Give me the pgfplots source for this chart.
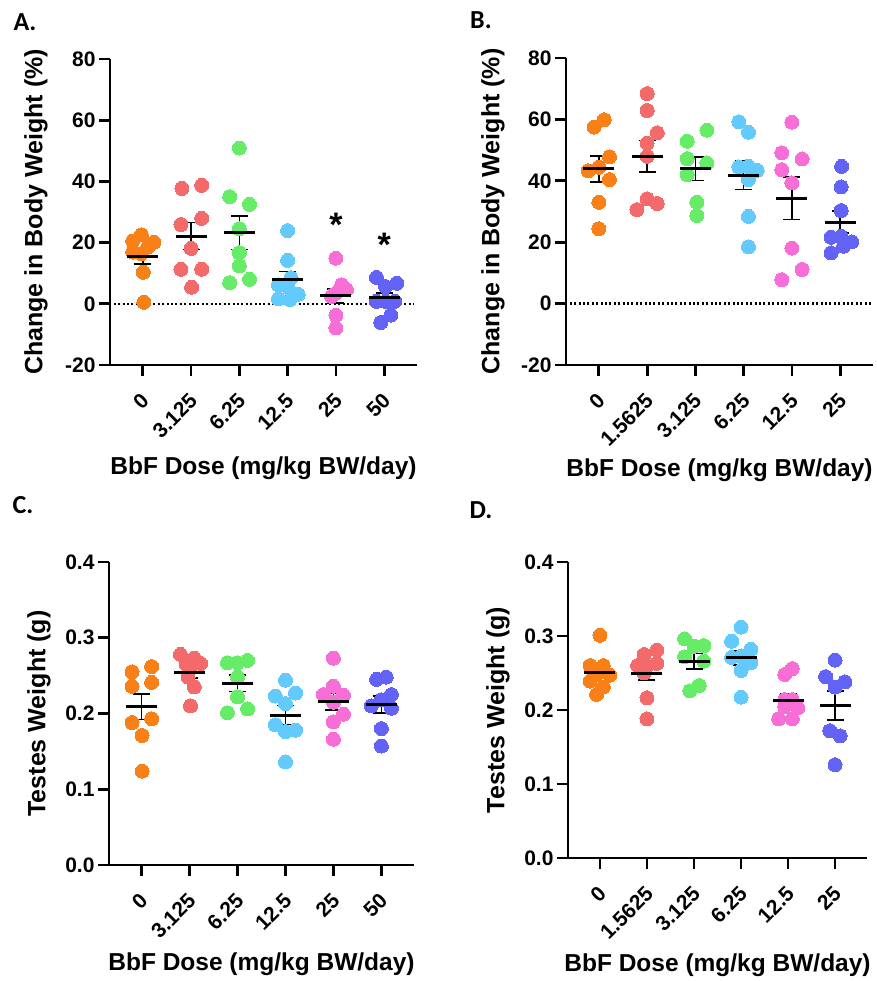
\documentclass[border=0pt]{standalone}
\usepackage{pgfplots}
\pgfplotsset{compat=1.18}
\usepackage{fontspec}
\setmainfont{Liberation Sans}
\newfontfamily\letterfont{Carlito}
\definecolor{corg}{RGB}{248,128,22}
\definecolor{cred}{RGB}{244,106,106}
\definecolor{cgrn}{RGB}{102,236,102}
\definecolor{ccyn}{RGB}{98,202,252}
\definecolor{cpnk}{RGB}{246,110,214}
\definecolor{cblu}{RGB}{98,98,246}
\pgfplotsset{
  panel/.style={scale only axis, axis lines*=left,
    axis line style={line width=2.8pt,-}, tick style={line width=2.8pt,black},
    major tick length=11pt, tick align=outside,
    xmin=-0.68, xmax=5.68, xtick={0,...,5},
    ticklabel style={font=\fontsize{21}{24}\selectfont\bfseries},
    xticklabel style={xshift=-3pt, yshift=-11pt, rotate=45, anchor=north east},
    xlabel style={font=\fontsize{24.5}{28}\selectfont\bfseries},
    ylabel style={font=\fontsize{25}{28}\selectfont\bfseries},
    /pgf/number format/assume math mode=true, clip=false},
  dots/.style={only marks, mark=*, mark size=7pt, color=#1, mark options={draw=#1, fill=#1, line width=0pt}},
  meanbar/.style={only marks, mark=-, mark size=15.5pt, color=black, mark options={line width=3pt, black},
    error bars/.cd, y dir=both, y explicit,
    error bar style={line width=1.6pt, black},
    error mark options={rotate=90, line width=1.6pt, mark size=8.5pt, black}},
  zeroline/.style={black, line width=2.2pt, dash pattern=on 2pt off 2.4pt},
}
\begin{document}
\begin{tikzpicture}
\useasboundingbox (0pt,0pt) rectangle (876pt,981pt);
\node[font=\fontsize{26}{30}\selectfont\bfseries\letterfont] at (25pt,959pt) {A.};
\node[font=\fontsize{26}{30}\selectfont\bfseries\letterfont] at (481pt,961pt) {B.};
\node[font=\fontsize{26}{30}\selectfont\bfseries\letterfont] at (23pt,476pt) {C.};
\node[font=\fontsize{26}{30}\selectfont\bfseries\letterfont] at (481pt,471pt) {D.};

% ---------- A ----------
\begin{axis}[panel, at={(110pt,616pt)}, anchor=south west, width=307pt, height=306pt,
  ymin=-20, ymax=80, ytick={-20,0,20,40,60,80},
  xticklabels={0,3.125,6.25,12.5,25,50},
  xlabel={BbF Dose (mg/kg BW/day)}, ylabel={Change in Body Weight (\%)},
  xlabel style={at={(axis description cs:0.5,0)}, anchor=center, yshift=-103pt},
  ylabel style={at={(axis description cs:-0.241,0.5)}, anchor=center}]
\addplot[zeroline] coordinates {(-0.6,0) (5.6,0)};
\addplot[dots=corg] coordinates {(-0.03,22.5) (-0.21,20.5) (0.23,20.1) (0.10,18.5) (-0.21,16.9) (-0.03,16.4) (0.01,10.3) (0.02,0.5)};
\addplot[dots=cred] coordinates {(0.81,37.7) (1.22,38.7) (1.22,27.9) (0.79,25.9) (1,18.1) (0.79,11.3) (1.22,11.3) (1.01,5.4)};
\addplot[dots=cgrn] coordinates {(2,50.9) (1.8,35.0) (2.21,32.5) (2,24.5) (2,16.7) (2,12.4) (1.8,6.9) (2.21,8.0)};
\addplot[dots=ccyn] coordinates {(3,23.9) (3,14.2) (3.07,8.5) (2.81,6.2) (3,5.6) (3.22,3.1) (2.81,1.6) (3.05,1.4)};
\addplot[dots=cpnk] coordinates {(4,14.9) (4.12,6.2) (4.22,4.6) (4,3.5) (3.91,2.4) (4.08,4.8) (4,-3.8) (4,-7.9)};
\addplot[dots=cblu] coordinates {(4.84,8.6) (5.26,6.7) (5.03,5.6) (4.84,0.8) (5.22,0.8) (5.03,0.8) (5.14,-3.7) (4.93,-6.1)};
\addplot[meanbar] coordinates {(0,15.6) +- (0,2.6) (1,22.1) +- (0,4.4) (2,23.2) +- (0,5.4) (3,7.8) +- (0,2.7) (4,2.6) +- (0,2.3) (5,2.1) +- (0,1.4)};
\node[font=\fontsize{34}{34}\selectfont\bfseries] at (axis cs:4,25.8) {*};
\node[font=\fontsize{34}{34}\selectfont\bfseries] at (axis cs:5,19.3) {*};
\end{axis}

% ---------- B ----------
\begin{axis}[panel, at={(566pt,616pt)}, anchor=south west, width=307pt, height=307pt,
  ymin=-20, ymax=80, ytick={-20,0,20,40,60,80},
  xticklabels={0,1.5625,3.125,6.25,12.5,25},
  xlabel={BbF Dose (mg/kg BW/day)}, ylabel={Change in Body Weight (\%)},
  xlabel style={at={(axis description cs:0.5,0)}, anchor=center, yshift=-105pt},
  ylabel style={at={(axis description cs:-0.238,0.5)}, anchor=center}]
\addplot[zeroline] coordinates {(-0.6,0) (5.65,0)};
\addplot[dots=corg] coordinates {(0.11,59.9) (-0.10,57.5) (0.22,47.8) (-0.22,43.3) (0,44.4) (0.22,40.4) (0,33.0) (0,24.4)};
\addplot[dots=cred] coordinates {(1,68.4) (1,62.9) (1.21,55.6) (1,52.3) (1,48.0) (0.79,30.6) (1,34.1) (1.21,32.6)};
\addplot[dots=cgrn] coordinates {(2.24,56.5) (1.83,52.9) (1.83,47.2) (2.24,45.8) (1.83,42.0) (2.03,33.0) (2.03,28.7)};
\addplot[dots=ccyn] coordinates {(2.9,59.2) (3.1,55.8) (2.9,44.5) (3.1,44.7) (3.28,43.4) (3.1,40.4) (3.1,28.4) (3.1,18.5)};
\addplot[dots=cpnk] coordinates {(4,59.1) (3.79,49.1) (4.21,47.1) (3.79,43.6) (4,39.3) (4,18.1) (4.21,11.1) (3.79,7.8)};
\addplot[dots=cblu] coordinates {(5.03,44.7) (5.02,38.0) (5.02,30.3) (4.81,21.6) (5.02,21.9) (5.24,20.1) (5.07,18.7) (4.81,16.5)};
\addplot[meanbar] coordinates {(0,43.9) +- (0,4.2) (1,48.0) +- (0,5.1) (2,43.9) +- (0,3.8) (3,41.8) +- (0,4.7) (4,34.3) +- (0,6.9) (5,26.5) +- (0,3.6)};
\end{axis}

% ---------- C ----------
\begin{axis}[panel, at={(109pt,116pt)}, anchor=south west, width=305pt, height=303pt,
  ymin=0, ymax=0.4, ytick={0,0.1,0.2,0.3,0.4},
  yticklabel style={/pgf/number format/.cd, fixed, fixed zerofill, precision=1},
  xticklabels={0,3.125,6.25,12.5,25,50},
  xlabel={BbF Dose (mg/kg BW/day)}, ylabel={Testes Weight (g)},
  xlabel style={at={(axis description cs:0.5,0)}, anchor=center, yshift=-99pt},
  ylabel style={at={(axis description cs:-0.2295,0.5)}, anchor=center}]
\addplot[dots=corg] coordinates {(-0.2,0.255) (0.21,0.262) (-0.2,0.236) (0.21,0.241) (-0.2,0.188) (0.21,0.193) (0.01,0.171) (0.01,0.124)};
\addplot[dots=cred] coordinates {(0.81,0.278) (1.1,0.273) (0.93,0.265) (1.23,0.266) (1.03,0.262) (0.97,0.248) (1.1,0.235) (1.02,0.210)};
\addplot[dots=cgrn] coordinates {(1.79,0.267) (2,0.267) (2.21,0.270) (2,0.248) (2,0.222) (1.79,0.201) (2.21,0.206)};
\addplot[dots=ccyn] coordinates {(3,0.244) (2.79,0.223) (3.21,0.227) (3,0.213) (2.79,0.185) (3.21,0.178) (3,0.176) (3,0.136)};
\addplot[dots=cpnk] coordinates {(4,0.273) (4,0.236) (3.79,0.225) (4.21,0.224) (4,0.215) (4.21,0.199) (4,0.189) (4,0.166)};
\addplot[dots=cblu] coordinates {(4.9,0.245) (5.1,0.248) (5.21,0.225) (5,0.218) (4.79,0.210) (5.21,0.207) (5,0.180) (5,0.157)};
\addplot[meanbar] coordinates {(0,0.209) +- (0,0.017) (1,0.2536) +- (0,0.007) (2,0.240) +- (0,0.011) (3,0.198) +- (0,0.0125) (4,0.2154) +- (0,0.011) (5,0.212) +- (0,0.011)};
\end{axis}

% ---------- D ----------
\begin{axis}[panel, at={(568pt,123pt)}, anchor=south west, width=299pt, height=296pt,
  ymin=0, ymax=0.4, ytick={0,0.1,0.2,0.3,0.4},
  yticklabel style={/pgf/number format/.cd, fixed, fixed zerofill, precision=1},
  xticklabels={0,1.5625,3.125,6.25,12.5,25},
  xlabel={BbF Dose (mg/kg BW/day)}, ylabel={Testes Weight (g)},
  xlabel style={at={(axis description cs:0.5,0)}, anchor=center, yshift=-107pt},
  ylabel style={at={(axis description cs:-0.234,0.5)}, anchor=center}]
\addplot[dots=corg] coordinates {(0,0.301) (-0.21,0.260) (0.07,0.260) (-0.07,0.248) (0.21,0.247) (-0.21,0.239) (0.07,0.231) (-0.07,0.221)};
\addplot[dots=cred] coordinates {(1.21,0.281) (0.94,0.275) (1.21,0.263) (0.8,0.260) (1,0.260) (0.94,0.250) (1,0.2165) (1,0.188)};
\addplot[dots=cgrn] coordinates {(1.8,0.296) (2,0.286) (2.21,0.287) (1.8,0.272) (2.21,0.266) (2.11,0.233) (1.91,0.226)};
\addplot[dots=ccyn] coordinates {(3,0.312) (2.8,0.293) (3.21,0.282) (2.8,0.271) (3,0.273) (3.21,0.264) (3,0.2535) (3,0.2174)};
\addplot[dots=cpnk] coordinates {(4.09,0.256) (3.93,0.248) (4.09,0.214) (3.93,0.214) (4.21,0.203) (3.8,0.188) (4.09,0.188) (3.93,0.205)};
\addplot[dots=cblu] coordinates {(5,0.2675) (4.8,0.245) (5.21,0.238) (5,0.231) (4.89,0.172) (5.11,0.165) (5,0.126)};
\addplot[meanbar] coordinates {(0,0.250) +- (0,0.0034) (1,0.249) +- (0,0.0085) (2,0.266) +- (0,0.0103) (3,0.2706) +- (0,0.0095) (4,0.2134) +- (0,0.008) (5,0.206) +- (0,0.0198)};
\end{axis}
\end{tikzpicture}
\end{document}
